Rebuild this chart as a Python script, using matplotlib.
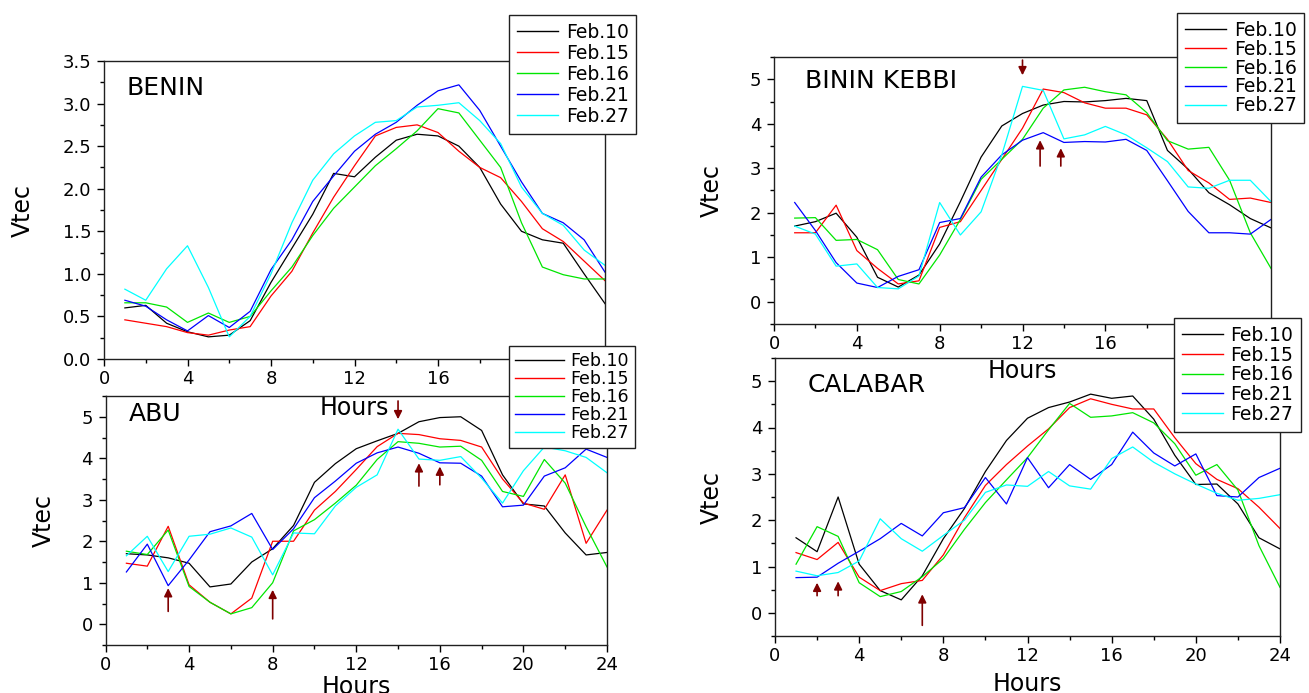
import matplotlib
matplotlib.use('Agg')
import matplotlib.pyplot as plt
from matplotlib.ticker import MultipleLocator

# ---- data ----
hours = list(range(1, 25))
dates = ['Feb.10', 'Feb.15', 'Feb.16', 'Feb.21', 'Feb.27']
colors = ['black', '#ff0000', '#00e600', '#0000ff', '#00ffff']

benin_feb10 = [0.60, 0.63, 0.42, 0.32, 0.26, 0.28, 0.45, 0.90, 1.30, 1.70, 2.18, 2.14,
               2.37, 2.57, 2.64, 2.62, 2.50, 2.25, 1.82, 1.50, 1.40, 1.36, 1.00, 0.65]
benin_feb15 = [0.46, 0.42, 0.38, 0.31, 0.28, 0.34, 0.38, 0.74, 1.03, 1.48, 1.90, 2.27,
               2.62, 2.72, 2.75, 2.66, 2.44, 2.25, 2.13, 1.85, 1.53, 1.38, 1.15, 0.92]
benin_feb16 = [0.66, 0.66, 0.61, 0.43, 0.54, 0.43, 0.50, 0.80, 1.08, 1.45, 1.77, 2.02,
               2.27, 2.47, 2.68, 2.94, 2.89, 2.57, 2.25, 1.60, 1.08, 0.99, 0.94, 0.94]
benin_feb21 = [0.69, 0.62, 0.46, 0.33, 0.51, 0.37, 0.56, 1.05, 1.40, 1.85, 2.15, 2.44,
               2.64, 2.78, 2.98, 3.15, 3.22, 2.92, 2.50, 2.08, 1.71, 1.60, 1.40, 1.02]
benin_feb27 = [0.82, 0.69, 1.06, 1.33, 0.84, 0.26, 0.50, 1.00, 1.60, 2.10, 2.41, 2.62,
               2.78, 2.80, 2.96, 2.98, 3.01, 2.80, 2.53, 2.02, 1.71, 1.57, 1.28, 1.10]

kebbi_feb10 = [1.70, 1.80, 1.99, 1.45, 0.55, 0.33, 0.60, 1.30, 2.25, 3.25, 3.95, 4.23,
               4.42, 4.50, 4.49, 4.52, 4.57, 4.52, 3.40, 2.98, 2.45, 2.18, 1.87, 1.66]
kebbi_feb15 = [1.55, 1.55, 2.17, 1.15, 0.75, 0.40, 0.47, 1.67, 1.80, 2.50, 3.20, 3.90,
               4.78, 4.70, 4.47, 4.35, 4.35, 4.20, 3.65, 2.95, 2.67, 2.30, 2.33, 2.23]
kebbi_feb16 = [1.88, 1.89, 1.38, 1.40, 1.17, 0.50, 0.40, 1.05, 1.85, 2.75, 3.20, 3.65,
               4.35, 4.76, 4.82, 4.72, 4.65, 4.25, 3.62, 3.43, 3.47, 2.73, 1.55, 0.75]
kebbi_feb21 = [2.23, 1.60, 0.88, 0.42, 0.32, 0.57, 0.72, 1.78, 1.87, 2.80, 3.30, 3.63,
               3.80, 3.58, 3.60, 3.59, 3.65, 3.40, 2.72, 2.03, 1.55, 1.55, 1.52, 1.85]
kebbi_feb27 = [1.70, 1.52, 0.80, 0.85, 0.32, 0.29, 0.58, 2.23, 1.50, 2.02, 3.30, 4.84,
               4.75, 3.66, 3.75, 3.94, 3.75, 3.46, 3.15, 2.58, 2.55, 2.73, 2.73, 2.25]

abu_feb10 = [1.70, 1.67, 1.60, 1.47, 0.90, 0.97, 1.50, 1.82, 2.38, 3.42, 3.87, 4.23,
             4.42, 4.60, 4.88, 4.98, 5.00, 4.67, 3.60, 2.90, 2.85, 2.20, 1.67, 1.73]
abu_feb15 = [1.47, 1.40, 2.36, 0.95, 0.53, 0.25, 0.63, 2.00, 2.00, 2.75, 3.20, 3.73,
             4.28, 4.60, 4.57, 4.47, 4.43, 4.27, 3.50, 2.92, 2.77, 3.60, 1.95, 2.75]
abu_feb16 = [1.76, 1.68, 2.27, 0.91, 0.53, 0.25, 0.40, 1.00, 2.25, 2.52, 2.92, 3.35,
             3.97, 4.40, 4.36, 4.27, 4.29, 3.95, 3.20, 3.08, 3.97, 3.40, 2.35, 1.38]
abu_feb21 = [1.26, 1.93, 0.93, 1.55, 2.23, 2.37, 2.67, 1.80, 2.30, 3.05, 3.45, 3.88,
             4.13, 4.27, 4.12, 3.89, 3.88, 3.57, 2.83, 2.87, 3.57, 3.77, 4.22, 4.02]
abu_feb27 = [1.65, 2.12, 1.27, 2.12, 2.17, 2.32, 2.10, 1.19, 2.20, 2.18, 2.85, 3.30,
             3.60, 4.70, 3.98, 3.95, 4.04, 3.52, 2.92, 3.70, 4.27, 4.18, 4.02, 3.65]

calabar_feb10 = [1.62, 1.32, 2.50, 1.05, 0.48, 0.28, 0.80, 1.60, 2.25, 3.05, 3.72, 4.20,
                 4.43, 4.55, 4.72, 4.63, 4.68, 4.18, 3.40, 2.77, 2.78, 2.35, 1.62, 1.38]
calabar_feb15 = [1.30, 1.15, 1.52, 0.77, 0.48, 0.63, 0.70, 1.25, 2.05, 2.75, 3.20, 3.60,
                 3.97, 4.43, 4.62, 4.50, 4.40, 4.40, 3.78, 3.22, 2.88, 2.68, 2.28, 1.82]
calabar_feb16 = [1.05, 1.86, 1.65, 0.65, 0.35, 0.46, 0.78, 1.17, 1.80, 2.38, 2.87, 3.35,
                 3.95, 4.52, 4.22, 4.25, 4.32, 4.10, 3.65, 2.97, 3.20, 2.65, 1.45, 0.55]
calabar_feb21 = [0.76, 0.77, 1.07, 1.33, 1.60, 1.93, 1.66, 2.16, 2.27, 2.92, 2.35, 3.35,
                 2.70, 3.20, 2.88, 3.20, 3.90, 3.45, 3.17, 3.43, 2.53, 2.50, 2.92, 3.12]
calabar_feb27 = [0.90, 0.80, 0.87, 1.12, 2.03, 1.60, 1.33, 1.67, 2.00, 2.60, 2.76, 2.73,
                 3.05, 2.74, 2.67, 3.33, 3.58, 3.25, 3.00, 2.78, 2.58, 2.43, 2.47, 2.55]

# arrows: (x, tail y, head y)
kebbi_arrows = [(12, 5.43, 5.09), (12.85, 3.05, 3.63), (13.85, 3.05, 3.45)]
abu_arrows = [(3, 0.31, 0.87), (8, 0.13, 0.83), (14, 5.38, 4.94), (15, 3.33, 3.88), (16, 3.36, 3.80)]
calabar_arrows = [(2, 0.37, 0.65), (3, 0.37, 0.68), (7, -0.27, 0.40)]

# ---- figure ----
W, H = 1309, 693
plt.rcParams['font.family'] = ['DejaVu Sans']
fig = plt.figure(figsize=(W / 100, H / 100), dpi=100)


def rect(x0, y0, x1, y1):
    return [x0 / W, 1 - y1 / H, (x1 - x0) / W, (y1 - y0) / H]


def painel(box, series, nome, nome_pos, ylim, ymaj, ymin, yfmt, vtec_x, hours_y, setas):
    ax = fig.add_axes(rect(*box))
    ax.set_facecolor('none')
    for vals, c in zip(series, colors):
        ax.plot(hours, vals, color=c, lw=0.9)
    ax.set_xlim(0, 24)
    ax.set_ylim(*ylim)
    ax.xaxis.set_major_locator(MultipleLocator(4))
    ax.xaxis.set_minor_locator(MultipleLocator(2))
    ax.yaxis.set_major_locator(MultipleLocator(ymaj))
    ax.yaxis.set_minor_locator(MultipleLocator(ymin))
    ax.yaxis.set_major_formatter(yfmt)
    ax.tick_params(which='major', direction='out', length=5, width=1, labelsize=13)
    ax.tick_params(which='minor', direction='out', length=3, width=1)
    ax.tick_params(axis='x', pad=3)
    ax.tick_params(axis='y', pad=4)
    for s in ax.spines.values():
        s.set_color('#202020')
        s.set_linewidth(1)
    ax.set_ylabel('Vtec', fontsize=17)
    ax.yaxis.set_label_coords(vtec_x, 0.5)
    ax.set_xlabel('Hours', fontsize=17)
    ax.xaxis.set_label_coords(0.5, hours_y)
    ax.text(nome_pos[0], nome_pos[1], nome, transform=ax.transAxes, fontsize=18,
            va='center', ha='left')
    for x, y0, y1 in setas:
        ax.annotate('', xy=(x, y1), xytext=(x, y0),
                    arrowprops=dict(arrowstyle='-|>', color='#7f0000', lw=1.2,
                                    mutation_scale=12, shrinkA=0, shrinkB=0))
    return ax


def legenda(x0, y0, ls, fs=13.5, bp=0.42, hl=2.2):
    handles = [plt.Line2D([], [], color=c, lw=1) for c in colors]
    leg = fig.legend(handles, dates, loc='upper left', bbox_to_anchor=(x0 / W, 1 - y0 / H),
                     fontsize=fs, labelspacing=ls, handlelength=hl, handletextpad=0.4,
                     borderpad=bp, borderaxespad=0, fancybox=False, framealpha=1,
                     edgecolor='#202020')
    leg.get_frame().set_linewidth(1)
    return leg


painel((104, 61, 605, 359), [benin_feb10, benin_feb15, benin_feb16, benin_feb21, benin_feb27],
       'BENIN', (0.044, 0.909), (0, 3.5), 0.5, 0.25, '{x:.1f}', -0.138, -0.124, [])
painel((105.5, 396, 607, 645), [abu_feb10, abu_feb15, abu_feb16, abu_feb21, abu_feb27],
       'ABU', (0.046, 0.928), (-0.5, 5.5), 1, 0.5, '{x:.0f}', -0.10, -0.12, abu_arrows)
painel((774, 57, 1271, 324), [kebbi_feb10, kebbi_feb15, kebbi_feb16, kebbi_feb21, kebbi_feb27],
       'BININ KEBBI', (0.062, 0.91), (-0.5, 5.5), 1, 0.5, '{x:.0f}', -0.10, -0.131, kebbi_arrows)
painel((775, 358, 1280, 636), [calabar_feb10, calabar_feb15, calabar_feb16, calabar_feb21, calabar_feb27],
       'CALABAR', (0.065, 0.903), (-0.5, 5.5), 1, 0.5, '{x:.0f}', -0.101, -0.13, calabar_arrows)

legenda(509, 15, 0.107)
legenda(509, 346, 0.0, fs=12.5, bp=0.35, hl=2.8)
legenda(1177, 13, -0.01)
legenda(1174, 318, 0.037)

fig.savefig('out.png', dpi=100)
